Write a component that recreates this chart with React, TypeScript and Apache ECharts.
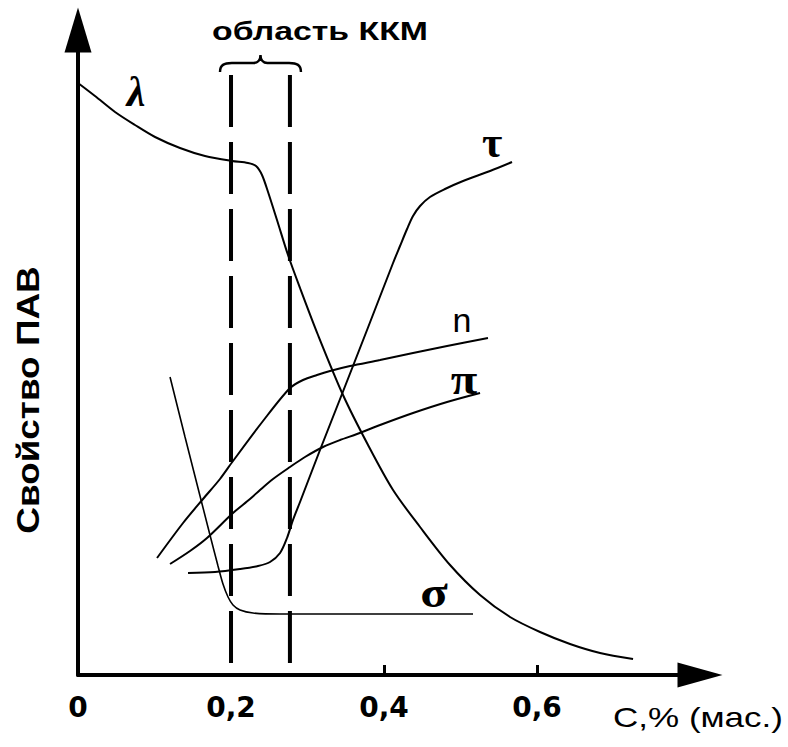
import React, { useEffect, useRef } from 'react';
import * as echarts from 'echarts';

// ---- Data (x: C, % mass; y: property value, arbitrary units) ----
const xTickValues = [0, 0.2, 0.4, 0.6];
const xMinorTickValues = [0.4, 0.6];
const cmcBounds = [0.2, 0.277];
const cmcTop = 600;

const lambdaData = [
  [0, 592], [0.0222, 579], [0.0484, 563], [0.0745, 550], [0.1007, 538], [0.1333, 527],
  [0.166, 519], [0.2013, 514], [0.2222, 512], [0.2327, 509], [0.2405, 500], [0.2484, 483],
  [0.2601, 455], [0.2745, 420], [0.2902, 387], [0.3137, 340], [0.3464, 280], [0.3791, 230],
  [0.4118, 185], [0.4471, 148], [0.4863, 110], [0.5255, 80], [0.5647, 58], [0.6039, 43],
  [0.6431, 31], [0.6824, 22], [0.7255, 16],
];
const tauData = [
  [0.1438, 102], [0.1791, 103], [0.2118, 106], [0.2353, 109], [0.251, 113], [0.2641, 122],
  [0.2732, 137], [0.281, 155], [0.2902, 173], [0.3163, 225], [0.3451, 281], [0.3778, 345],
  [0.4118, 412], [0.4209, 429], [0.4301, 446], [0.4379, 459], [0.4471, 469], [0.4601, 478],
  [0.4797, 486], [0.5033, 494], [0.5386, 504], [0.5673, 513],
];
const sigmaData = [
  [0.1203, 298], [0.1399, 238], [0.1595, 179], [0.1725, 140], [0.183, 109], [0.1895, 91],
  [0.1961, 78], [0.2026, 70], [0.2118, 65], [0.2288, 62], [0.264, 61], [0.5163, 61],
];
const nData = [
  [0.1033, 117], [0.1373, 152], [0.1634, 176], [0.1856, 196], [0.2026, 214], [0.2418, 254],
  [0.2771, 287], [0.2941, 295], [0.3124, 300], [0.3294, 304], [0.3556, 309], [0.3948, 315],
  [0.4379, 322], [0.4824, 329], [0.5359, 337],
];
const piData = [
  [0.1203, 111], [0.1464, 124], [0.1686, 137], [0.2026, 162], [0.2248, 176], [0.2379, 185],
  [0.2549, 196], [0.2771, 208], [0.2967, 218], [0.3203, 228], [0.3425, 235], [0.3647, 241],
  [0.3948, 250], [0.4379, 262], [0.4824, 273], [0.5255, 282],
];

const curveNames = ['λ', 'τ', 'σ', 'n', 'π'];
const labelAnchors = [
  [0.0758, 583], [0.5412, 533], [0.4654, 83], [0.502, 355], [0.5046, 296],
];

echarts.graphic.registerShape(
  'brace',
  echarts.graphic.extendPath(
    'M0,17 C0,10 4,8 12,8 L34,8 C38,8 41,5 41,0 C41,5 44,8 48,8 L70,8 C78,8 82,10 82,17',
    {}
  )
);

const labelStyles: any[] = [
  { fontSize: 42, fontStyle: 'italic', fontFamily: 'Liberation Serif', fontWeight: 'bold', scaleX: 1.0 },
  { fontSize: 44, fontStyle: 'normal', fontFamily: 'Liberation Serif', fontWeight: 'bold', scaleX: 1.0 },
  { fontSize: 44, fontStyle: 'normal', fontFamily: 'Liberation Serif', fontWeight: 'bold', scaleX: 1.15 },
  { fontSize: 34, fontStyle: 'normal', fontFamily: 'Liberation Sans', fontWeight: 'normal', scaleX: 1.0 },
  { fontSize: 44, fontStyle: 'normal', fontFamily: 'Liberation Serif', fontWeight: 'bold', scaleX: 1.1 },
];

const lineSeries = (name: string, data: number[][], width = 2) => ({
  name,
  type: 'line',
  data,
  symbol: 'none',
  smooth: 0.3,
  silent: true,
  lineStyle: { color: '#000', width },
  z: 3,
});

export default function App() {
  const ref = useRef<HTMLDivElement>(null);

  useEffect(() => {
    if (!ref.current) return;
    const chart = echarts.init(ref.current, null, { renderer: 'svg' });
    const option: any = {
      animation: false,
      backgroundColor: '#fff',
      grid: { left: 78, right: 88, top: 30, bottom: 72, containLabel: false },
      xAxis: {
        type: 'value',
        min: 0,
        max: 0.813,
        interval: 0.2,
        axisLine: {
          show: true,
          onZero: false,
          symbol: ['none', 'triangle'],
          symbolSize: [25, 45],
          lineStyle: { color: '#000', width: 4 },
        },
        axisTick: {
          show: true,
          inside: true,
          length: 10,
          customValues: xMinorTickValues,
          lineStyle: { color: '#000', width: 3 },
        },
        axisLabel: {
          show: true,
          customValues: xTickValues,
          margin: 18,
          color: '#000',
          fontSize: 28,
          fontWeight: 'bold',
          fontFamily: 'DejaVu Sans',
          formatter: (v: number) => (v === 0 ? '0' : String(v).replace('.', ',')),
        },
        splitLine: { show: false },
      },
      yAxis: {
        type: 'value',
        min: 0,
        max: 645,
        axisLine: {
          show: true,
          onZero: false,
          symbol: ['none', 'triangle'],
          symbolSize: [27, 45],
          lineStyle: { color: '#000', width: 4 },
        },
        axisTick: { show: false },
        axisLabel: { show: false },
        splitLine: { show: false },
      },
      series: [
        {
          name: 'cmc-left',
          type: 'line',
          data: [[cmcBounds[0], cmcTop], [cmcBounds[0], 0]],
          symbol: 'none',
          silent: true,
          lineStyle: { color: '#000', width: 4, type: [52, 15] },
          z: 2,
        },
        {
          name: 'cmc-right',
          type: 'line',
          data: [[cmcBounds[1], cmcTop], [cmcBounds[1], 0]],
          symbol: 'none',
          silent: true,
          lineStyle: { color: '#000', width: 4, type: [52, 15] },
          z: 2,
        },
        lineSeries('λ', lambdaData),
        lineSeries('τ', tauData),
        lineSeries('σ', sigmaData, 1.6),
        lineSeries('n', nData),
        lineSeries('π', piData),
      ],
    };
    chart.setOption(option);

    const toPx = (p: number[]) => chart.convertToPixel({ gridIndex: 0 }, p) as number[];
    const bl = toPx([cmcBounds[0], 620]);
    const br = toPx([cmcBounds[1], 620]);
    const braceLeft = bl[0] - 11;
    const braceRight = br[0] + 11;

    const graphics: any[] = [
      {
        type: 'brace',
        x: braceLeft,
        y: bl[1],
        scaleX: (braceRight - braceLeft) / 82,
        scaleY: 1,
        style: { stroke: '#000', fill: 'none', lineWidth: 2.5 },
        silent: true,
      },
      {
        type: 'text',
        x: 320,
        y: 31,
        scaleX: 1.3,
        style: {
          text: 'область ККМ',
          fill: '#000',
          fontSize: 26,
          fontWeight: 'bold',
          fontFamily: 'Liberation Sans',
          align: 'center',
          verticalAlign: 'middle',
        },
      },
      {
        type: 'text',
        x: 28.5,
        y: 400,
        rotation: Math.PI / 2,
        scaleX: 1.19,
        style: {
          text: 'Свойство ПАВ',
          fill: '#000',
          fontSize: 31,
          fontWeight: 'bold',
          fontFamily: 'Liberation Sans',
          align: 'center',
          verticalAlign: 'middle',
        },
      },
      {
        type: 'text',
        x: 698,
        y: 717,
        scaleX: 1.25,
        style: {
          text: 'С,% (мас.)',
          fill: '#000',
          fontSize: 28,
          fontWeight: 'normal',
          fontFamily: 'Liberation Sans',
          align: 'center',
          verticalAlign: 'middle',
        },
      },
    ];
    curveNames.forEach((t, i) => {
      const p = toPx(labelAnchors[i]);
      const s = labelStyles[i];
      graphics.push({
        type: 'text',
        x: p[0],
        y: p[1],
        scaleX: s.scaleX,
        style: {
          text: t,
          fill: '#000',
          fontSize: s.fontSize,
          fontStyle: s.fontStyle,
          fontWeight: s.fontWeight,
          fontFamily: s.fontFamily,
          align: 'center',
          verticalAlign: 'middle',
        },
      });
    });
    chart.setOption({ graphic: graphics });

    return () => chart.dispose();
  }, []);

  return (
    <div
      ref={ref}
      style={{ position: 'absolute', left: 0, top: 0, width: 788, height: 747 }}
    />
  );
}
